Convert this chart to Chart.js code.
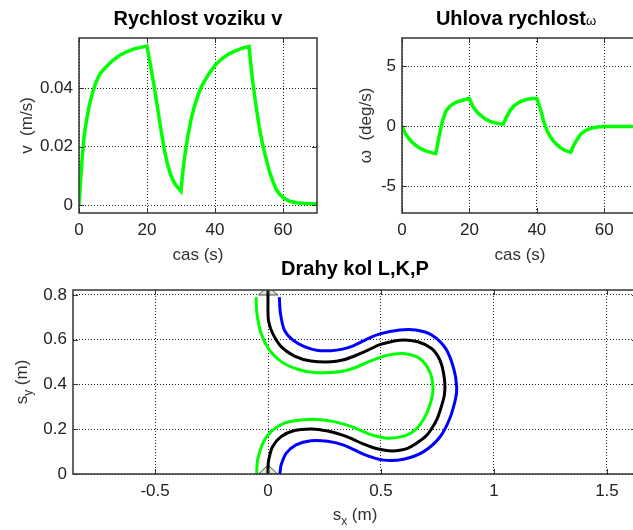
<!DOCTYPE html>
<html>
<head>
<meta charset="utf-8">
<title>Vozik - rychlosti a drahy kol</title>
<script src="https://cdn.jsdelivr.net/npm/chart.js@4.4.1/dist/chart.umd.min.js"></script>
<style>
  html, body { margin: 0; padding: 0; background: #fff; width: 633px; height: 530px; overflow: hidden; }
  canvas { position: absolute; }
  #rychlost { left: 0; top: 0; }
  #omega { left: 320px; top: 0; }
  #drahy { left: 0; top: 255px; }
</style>
</head>
<body>
<canvas id="rychlost" width="330" height="270"></canvas>
<canvas id="omega" width="330" height="270"></canvas>
<canvas id="drahy" width="660" height="275"></canvas>
<script>
// rychlost voziku v (m/s) v case (s)
const casV = [0, 0.5, 1, 1.5, 2, 3, 4, 5, 6, 7, 8, 10, 12, 14, 16, 18, 20,
  21, 22, 23, 24, 25, 26, 27, 28, 29, 30, 30.5, 31, 32, 33, 34, 35, 36,
  38, 40, 42, 44, 46, 48, 50, 51, 52, 53, 54, 55, 56, 57, 58, 59,
  60, 62, 64, 66, 68, 70];
const rychlostV = [0, 0.009, 0.017, 0.0235, 0.0275, 0.034, 0.0385, 0.042, 0.0445, 0.046, 0.0473, 0.0495, 0.0512, 0.0524, 0.0533, 0.0539, 0.0543,
  0.048, 0.0412, 0.034, 0.0265, 0.0195, 0.014, 0.0102, 0.0077, 0.006, 0.0047, 0.011, 0.016, 0.0235, 0.0295, 0.034, 0.0375, 0.0405,
  0.0445, 0.0478, 0.05, 0.0516, 0.0527, 0.0536, 0.0542, 0.043, 0.0345, 0.0267, 0.0207, 0.016, 0.0115, 0.0082, 0.0054, 0.0037,
  0.0026, 0.0013, 0.0008, 0.0006, 0.0005, 0.0005];

// uhlova rychlost (deg/s)
const casW = [0, 1, 2, 3, 4, 5, 6, 7, 8, 9, 10, 11, 12, 13, 14, 15, 16, 17, 18, 19, 20,
  21, 22, 23, 24, 25, 26, 27, 28, 29, 30, 31, 32, 33, 34, 35, 36, 37, 38, 39, 40,
  41, 42, 43, 44, 45, 46, 47, 48, 49, 50, 51, 52, 53, 54, 55, 56, 57, 58,
  60, 62, 64, 66, 68, 70];
const omega = [0, -0.6, -1.0, -1.32, -1.56, -1.76, -1.92, -2.04, -2.13, -2.21, -2.27,
  -0.85, 0.45, 1.25, 1.62, 1.85, 2.0, 2.1, 2.18, 2.26, 2.33,
  1.68, 1.28, 1.0, 0.77, 0.58, 0.44, 0.34, 0.27, 0.22, 0.19,
  0.78, 1.3, 1.65, 1.88, 2.04, 2.16, 2.25, 2.3, 2.32, 2.33,
  1.5, 0.45, -0.35, -0.87, -1.25, -1.55, -1.77, -1.95, -2.07, -2.17,
  -1.55, -1.05, -0.65, -0.42, -0.27, -0.16, -0.09, -0.05,
  0, 0, 0, 0, 0, 0];

// drahy kol: K = stred, L = leve, P = prave (m)
const kolKx = [0, 0, 0.003, 0.02, 0.058, 0.117, 0.19, 0.235, 0.279, 0.33, 0.367, 0.424, 0.47, 0.512, 0.55,
  0.583, 0.62, 0.654, 0.70, 0.724, 0.75, 0.769, 0.78, 0.783, 0.78, 0.769, 0.75, 0.724, 0.663, 0.583,
  0.495, 0.44, 0.38, 0.33, 0.279, 0.19, 0.117, 0.058, 0.02, 0.003, 0, 0];
const kolKy = [0, 0.03, 0.063, 0.122, 0.167, 0.194, 0.201, 0.197, 0.189, 0.174, 0.159, 0.133, 0.116, 0.107, 0.103,
  0.106, 0.116, 0.135, 0.17, 0.202, 0.25, 0.307, 0.35, 0.389, 0.43, 0.486, 0.53, 0.561, 0.591, 0.598,
  0.578, 0.552, 0.526, 0.509, 0.501, 0.505, 0.527, 0.569, 0.629, 0.68, 0.718, 0.82];
const kolLx = [-0.05, -0.049, -0.046, -0.023, 0.013, 0.072, 0.146, 0.22, 0.293, 0.367, 0.42, 0.459, 0.53, 0.6, 0.654, 0.698,
  0.724, 0.73, 0.716, 0.671, 0.6, 0.53, 0.442, 0.39, 0.34, 0.279, 0.205, 0.131, 0.058, 0.006, -0.031, -0.049, -0.053];
const kolLy = [0, 0.03, 0.063, 0.137, 0.189, 0.227, 0.241, 0.244, 0.234, 0.213, 0.19, 0.175, 0.16, 0.169, 0.199, 0.262,
  0.336, 0.389, 0.456, 0.516, 0.538, 0.531, 0.5, 0.477, 0.461, 0.453, 0.453, 0.468, 0.502, 0.554, 0.629, 0.718, 0.79];
const kolPx = [0.052, 0.055, 0.058, 0.08, 0.124, 0.19, 0.264, 0.338, 0.424, 0.512, 0.6, 0.689, 0.76, 0.804, 0.83,
  0.835, 0.822, 0.786, 0.724, 0.654, 0.583, 0.495, 0.44, 0.38, 0.33, 0.279, 0.22, 0.161, 0.109, 0.072, 0.055, 0.05];
const kolPy = [0, 0.02, 0.04, 0.092, 0.13, 0.149, 0.146, 0.128, 0.088, 0.062, 0.066, 0.1, 0.164, 0.247, 0.336,
  0.389, 0.471, 0.561, 0.621, 0.643, 0.643, 0.626, 0.604, 0.574, 0.558, 0.551, 0.552, 0.569, 0.599, 0.644, 0.718, 0.79];

// poloha voziku na zacatku a na konci
const vozikX = [0, 0];
const vozikY = [0, 0.8];

// popisky os
const ticksCas = [0, 20, 40, 60];
const ticksV = [0, 0.02, 0.04];
const ticksW = [-5, 0, 5];
const ticksSx = [-0.5, 0, 0.5, 1, 1.5];
const ticksSy = [0, 0.2, 0.4, 0.6, 0.8];

const PISMO = '"Liberation Sans", Arial, sans-serif';
const ZELENA = '#00ff00';

function body(xs, ys) {
  return xs.map((x, i) => ({ x: x, y: ys[i] }));
}

// ramecek, znacky dovnitr, nadpisy a popisky os
const osyPlugin = {
  id: 'osy',
  afterDraw(chart, args, o) {
    const ctx = chart.ctx;
    const a = chart.chartArea;
    const sx = chart.scales.x, sy = chart.scales.y;
    ctx.save();
    ctx.strokeStyle = '#333';
    ctx.lineWidth = 1.5;
    ctx.strokeRect(a.left, a.top, a.right - a.left, a.bottom - a.top);
    ctx.lineWidth = 1;
    ctx.beginPath();
    sx.ticks.forEach(t => {
      const px = Math.round(sx.getPixelForValue(t.value)) + 0.5;
      ctx.moveTo(px, a.bottom); ctx.lineTo(px, a.bottom - 5);
      ctx.moveTo(px, a.top); ctx.lineTo(px, a.top + 5);
    });
    sy.ticks.forEach(t => {
      const py = Math.round(sy.getPixelForValue(t.value)) + 0.5;
      ctx.moveTo(a.left, py); ctx.lineTo(a.left + 5, py);
      ctx.moveTo(a.right, py); ctx.lineTo(a.right - 5, py);
    });
    ctx.stroke();

    const cx = (a.left + a.right) / 2;
    const cy = (a.top + a.bottom) / 2;

    // nadpis
    ctx.fillStyle = '#000';
    ctx.textBaseline = 'alphabetic';
    ctx.textAlign = 'left';
    ctx.font = 'bold 20px ' + PISMO;
    const w1 = ctx.measureText(o.title).width;
    let w2 = 0;
    if (o.titleSym) {
      ctx.font = '13px ' + PISMO;
      w2 = ctx.measureText(o.titleSym).width;
    }
    const x0 = cx - (w1 + w2) / 2 - (o.titleShift || 0);
    ctx.font = 'bold 20px ' + PISMO;
    ctx.fillText(o.title, x0, o.titleY);
    if (o.titleSym) {
      ctx.font = '13px ' + PISMO;
      ctx.fillText(o.titleSym, x0 + w1, o.titleY);
    }

    // popisky os (s pripadnym dolnim indexem)
    ctx.fillStyle = '#333';
    const popisek = (parts, x, y) => {
      ctx.font = '17px ' + PISMO;
      const wa = ctx.measureText(parts[0]).width;
      const wc = parts[2] ? ctx.measureText(parts[2]).width : 0;
      ctx.font = '12px ' + PISMO;
      const wb = parts[1] ? ctx.measureText(parts[1]).width : 0;
      let px = x - (wa + wb + wc) / 2;
      ctx.font = '17px ' + PISMO;
      ctx.fillText(parts[0], px, y);
      px += wa;
      if (parts[1]) {
        ctx.font = '12px ' + PISMO;
        ctx.fillText(parts[1], px, y + 5);
        px += wb;
      }
      if (parts[2]) {
        ctx.font = '17px ' + PISMO;
        ctx.fillText(parts[2], px, y);
      }
    };
    popisek(o.xLabel, cx, o.xLabelY);
    ctx.save();
    ctx.translate(o.yLabelX, cy);
    ctx.rotate(-Math.PI / 2);
    popisek(o.yLabel, 0, 6);
    ctx.restore();
    ctx.restore();
  }
};

function osa(min, max, ticks, velikost, horizontal) {
  return {
    type: 'linear',
    min: min,
    max: max,
    afterBuildTicks: s => { s.ticks = ticks.map(v => ({ value: v })); },
    afterFit: s => {
      if (horizontal) s.height = velikost; else s.width = velikost;
    },
    grid: { color: '#222', lineWidth: 1, drawTicks: false },
    border: { display: false, dash: [1, 2] },
    ticks: {
      padding: horizontal ? 7 : 6,
      color: '#222',
      autoSkip: false,
      maxRotation: 0,
      font: { family: PISMO, size: 17 },
      callback: v => String(+v.toFixed(3))
    }
  };
}

function zakladniVolby(padding, osy, popisky) {
  return {
    responsive: false,
    animation: false,
    events: [],
    layout: { padding: padding, autoPadding: false },
    scales: osy,
    plugins: {
      legend: { display: false },
      tooltip: { enabled: false },
      osy: popisky
    }
  };
}

new Chart(document.getElementById('rychlost'), {
  type: 'scatter',
  data: {
    datasets: [{
      data: body(casV, rychlostV),
      showLine: true,
      borderColor: ZELENA,
      borderWidth: 3.5,
      pointRadius: 0,
      tension: 0
    }]
  },
  options: zakladniVolby({ top: 38, right: 13, left: 0, bottom: 0 }, {
    x: osa(0, 70, ticksCas, 57, true),
    y: osa(-0.0027, 0.0571, ticksV, 79, false)
  }, {
    title: 'Rychlost voziku v', titleY: 25,
    xLabel: ['cas (s)'], xLabelY: 260,
    yLabel: ['v  (m/s)'], yLabelX: 26
  }),
  plugins: [osyPlugin]
});

new Chart(document.getElementById('omega'), {
  type: 'scatter',
  data: {
    datasets: [{
      data: body(casW, omega),
      showLine: true,
      borderColor: ZELENA,
      borderWidth: 3.5,
      pointRadius: 0,
      tension: 0
    }]
  },
  options: zakladniVolby({ top: 38, right: 12, left: 0, bottom: 0 }, {
    x: osa(0, 70, ticksCas, 57, true),
    y: osa(-7.22, 7.37, ticksW, 82, false)
  }, {
    title: 'Uhlova rychlost', titleSym: 'ω', titleY: 25, titleShift: 4,
    xLabel: ['cas (s)'], xLabelY: 260,
    yLabel: ['ω  (deg/s)'], yLabelX: 45
  }),
  plugins: [osyPlugin]
});

// znacka voziku: plochy trojuhelnik se zakladnou v bode
function znackaVoziku() {
  const c = document.createElement('canvas');
  c.width = 22;
  c.height = 20;
  const g = c.getContext('2d');
  g.beginPath();
  g.moveTo(1.5, 10);
  g.lineTo(11, 1);
  g.lineTo(20.5, 10);
  g.closePath();
  g.fillStyle = '#d4ead4';
  g.fill();
  g.strokeStyle = '#444';
  g.lineWidth = 1;
  g.stroke();
  return c;
}

const draha = (xs, ys, barva) => ({
  data: body(xs, ys),
  showLine: true,
  borderColor: barva,
  borderWidth: 3,
  pointRadius: 0,
  tension: 0.3
});

new Chart(document.getElementById('drahy'), {
  type: 'scatter',
  data: {
    datasets: [
      draha(kolKx, kolKy, '#000'),
      draha(kolLx, kolLy, ZELENA),
      draha(kolPx, kolPy, '#0000ff'),
      {
        data: body(vozikX, vozikY),
        showLine: false,
        pointStyle: znackaVoziku(),
        pointRadius: 10
      }
    ]
  },
  options: zakladniVolby({ top: 35, right: 23, left: 0, bottom: 0 }, {
    x: osa(-0.863, 1.633, ticksSx, 56, true),
    y: osa(0, 0.822, ticksSy, 73, false)
  }, {
    title: 'Drahy kol L,K,P', titleY: 20,
    xLabel: ['s', 'x', ' (m)'], xLabelY: 265,
    yLabel: ['s', 'y', ' (m)'], yLabelX: 21
  }),
  plugins: [osyPlugin]
});
</script>
</body>
</html>
